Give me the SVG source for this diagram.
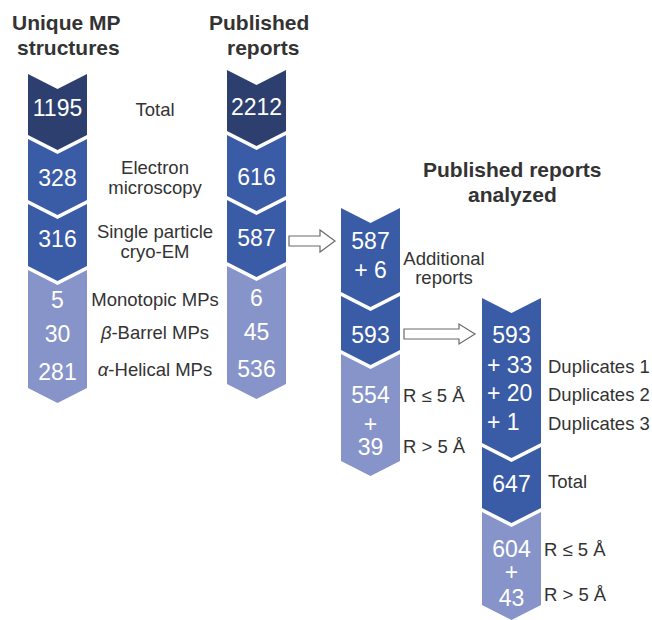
<svg xmlns="http://www.w3.org/2000/svg" width="652" height="620" viewBox="0 0 652 620">
<style>
.dk{fill:#2C3F6E}
.md{fill:#3A5BA6}
.lt{fill:#8794CA}
.num{font-family:"Liberation Sans",Arial,sans-serif;font-size:23px;fill:#fff;text-anchor:middle}
.num.st{text-anchor:start}
.lab{font-family:"Liberation Sans",Arial,sans-serif;font-size:18.5px;fill:#333}
.c{text-anchor:middle}
.ttl{font-family:"Liberation Sans",Arial,sans-serif;font-size:21px;font-weight:bold;fill:#333}
.arr{fill:#fff;stroke:#6b6b6b;stroke-width:1.2}
</style>
<rect width="652" height="620" fill="#fff"/>
<g id="titles">
<text class="ttl" x="12" y="30">Unique MP</text>
<text class="ttl" x="17" y="55">structures</text>
<text class="ttl" x="209" y="30">Published</text>
<text class="ttl" x="227" y="55">reports</text>
<text class="ttl" x="423" y="177">Published reports</text>
<text class="ttl" x="468" y="202">analyzed</text>
</g>
<g id="unique-column">
<g id="u-total"><polygon class="dk" points="28,74 57.5,89 87,74 87,135 57.5,150 28,135"/><text class="num" x="57.5" y="116">1195</text></g>
<g id="u-em"><polygon class="md" points="28,139 57.5,154 87,139 87,200 57.5,215 28,200"/><text class="num" x="57.5" y="186">328</text></g>
<g id="u-spa"><polygon class="md" points="28,204 57.5,219 87,204 87,266 57.5,281 28,266"/><text class="num" x="57.5" y="247">316</text></g>
<g id="u-types"><polygon class="lt" points="28,270 57.5,285 87,270 87,388 57.5,403 28,388"/><text class="num" x="57.5" y="308">5</text><text class="num" x="57.5" y="342">30</text><text class="num" x="57.5" y="380">281</text></g>
</g>
<g id="category-labels">
<text class="lab c" x="155" y="116">Total</text>
<text class="lab c" x="155" y="174">Electron</text>
<text class="lab c" x="155" y="194">microscopy</text>
<text class="lab c" x="155" y="238">Single particle</text>
<text class="lab c" x="155" y="258">cryo-EM</text>
<text class="lab c" x="155" y="306">Monotopic MPs</text>
<text class="lab c" x="155" y="339"><tspan font-style="italic">β</tspan>-Barrel MPs</text>
<text class="lab c" x="155" y="376"><tspan font-style="italic">α</tspan>-Helical MPs</text>
</g>
<g id="published-column">
<g id="p-total"><polygon class="dk" points="227,70 256.5,85 286,70 286,131 256.5,146 227,131"/><text class="num" x="256.5" y="115">2212</text></g>
<g id="p-em"><polygon class="md" points="227,135 256.5,150 286,135 286,196 256.5,211 227,196"/><text class="num" x="256.5" y="185">616</text></g>
<g id="p-spa"><polygon class="md" points="227,200 256.5,215 286,200 286,262 256.5,277 227,262"/><text class="num" x="256.5" y="246">587</text></g>
<g id="p-types"><polygon class="lt" points="227,266 256.5,281 286,266 286,384 256.5,399 227,384"/><text class="num" x="256.5" y="306">6</text><text class="num" x="256.5" y="340">45</text><text class="num" x="256.5" y="377">536</text></g>
</g>
<g id="analyzed-column">
<g id="a-add"><polygon class="md" points="341,208 370.5,223 400,208 400,292 370.5,307 341,292"/><text class="num" x="370.5" y="249">587</text><text class="num" x="370.5" y="278">+ 6</text></g>
<g id="a-593"><polygon class="md" points="341,296 370.5,311 400,296 400,350 370.5,365 341,350"/><text class="num" x="370.5" y="343">593</text></g>
<g id="a-res"><polygon class="lt" points="341,354 370.5,369 400,354 400,461 370.5,476 341,461"/><text class="num" x="370.5" y="403">554</text><text class="num" x="370.5" y="432">+</text><text class="num" x="370.5" y="455">39</text></g>
<text class="lab c" x="444" y="265">Additional</text>
<text class="lab c" x="444" y="284">reports</text>
<text class="lab" x="403" y="402">R ≤ 5 Å</text>
<text class="lab" x="403" y="453">R &gt; 5 Å</text>
</g>
<g id="final-column">
<g id="f-dup"><polygon class="md" points="482,298 511.5,313 541,298 541,443 511.5,458 482,443"/><text class="num" x="511.5" y="343">593</text><text class="num st" x="487" y="373">+ 33</text><text class="num st" x="487" y="401">+ 20</text><text class="num st" x="487" y="430">+ 1</text></g>
<g id="f-total"><polygon class="md" points="482,447 511.5,462 541,447 541,508 511.5,523 482,508"/><text class="num" x="511.5" y="492">647</text></g>
<g id="f-res"><polygon class="lt" points="482,512 511.5,527 541,512 541,605 511.5,620 482,605"/><text class="num" x="511.5" y="557">604</text><text class="num" x="511.5" y="580">+</text><text class="num" x="511.5" y="606">43</text></g>
<text class="lab" x="548" y="373">Duplicates 1</text>
<text class="lab" x="548" y="401">Duplicates 2</text>
<text class="lab" x="548" y="430">Duplicates 3</text>
<text class="lab" x="548" y="488">Total</text>
<text class="lab" x="544" y="556">R ≤ 5 Å</text>
<text class="lab" x="544" y="601">R &gt; 5 Å</text>
</g>
<g id="connectors">
<polygon class="arr" points="289,236 320,236 320,230 335,241 320,252 320,246 289,246"/>
<polygon class="arr" points="404,329 459,329 459,324 475,334 459,344 459,339 404,339"/>
</g>
</svg>
